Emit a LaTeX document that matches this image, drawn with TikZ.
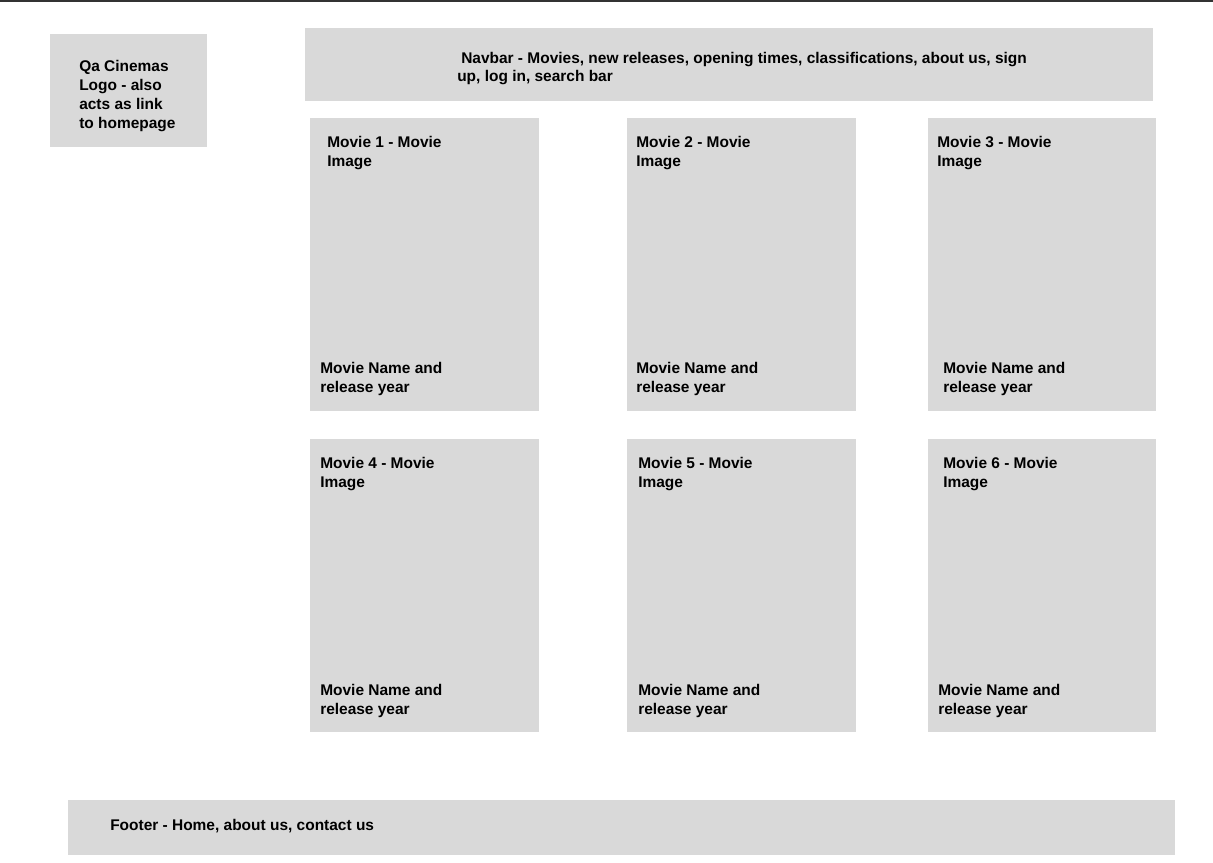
\documentclass[tikz,border=0pt]{standalone}
\usepackage{fontspec}
\setmainfont{Liberation Sans}
\definecolor{boxgray}{HTML}{D9D9D9}
\definecolor{topline}{HTML}{333333}
\begin{document}
\begin{tikzpicture}[x=0.75pt,y=-0.75pt,
  panel/.style={fill=boxgray,draw=none},
  lbl/.style={anchor=base west,inner sep=0pt,align=left,font=\bfseries\fontsize{11.6pt}{14.25pt}\selectfont,text=black}]
\useasboundingbox (0,0) rectangle (1213,863);
\fill[white] (0,0) rectangle (1213,863);
\fill[topline] (0,0) rectangle (1213,2);
% panels
\fill[panel] (50,34) rectangle (207,147);
\fill[panel] (305,28) rectangle (1153,101);
\fill[panel] (310,118) rectangle (539,411);
\fill[panel] (627,118) rectangle (856,411);
\fill[panel] (928,118) rectangle (1156,411);
\fill[panel] (310,439) rectangle (539,732);
\fill[panel] (627,439) rectangle (856,732);
\fill[panel] (928,439) rectangle (1156,732);
\fill[panel] (68,800) rectangle (1175,855);
% texts (anchor = baseline of last line)
\node[lbl] (logo) at (79,128.5) {Qa Cinemas\\Logo - also\\acts as link\\to homepage};
\node[lbl] (nav1) at (461,63.5) {Navbar - Movies, new releases, opening times, classifications, about us, sign};
\node[lbl] (nav2) at (457,81.5) {up, log in, search bar};
\node[lbl] (m1t) at (327,166.5) {Movie 1 - Movie\\Image};
\node[lbl] (m1b) at (320,392.5) {Movie Name and\\release year};
\node[lbl] (m2t) at (636,166.5) {Movie 2 - Movie\\Image};
\node[lbl] (m2b) at (636,392.5) {Movie Name and\\release year};
\node[lbl] (m3t) at (937,166.5) {Movie 3 - Movie\\Image};
\node[lbl] (m3b) at (943,392.5) {Movie Name and\\release year};
\node[lbl] (m4t) at (320,487.5) {Movie 4 - Movie\\Image};
\node[lbl] (m4b) at (320,714.5) {Movie Name and\\release year};
\node[lbl] (m5t) at (638,487.5) {Movie 5 - Movie\\Image};
\node[lbl] (m5b) at (638,714.5) {Movie Name and\\release year};
\node[lbl] (m6t) at (943,487.5) {Movie 6 - Movie\\Image};
\node[lbl] (m6b) at (938,714.5) {Movie Name and\\release year};
\node[lbl] (foot) at (110,830) {Footer - Home, about us, contact us};
\end{tikzpicture}
\end{document}
